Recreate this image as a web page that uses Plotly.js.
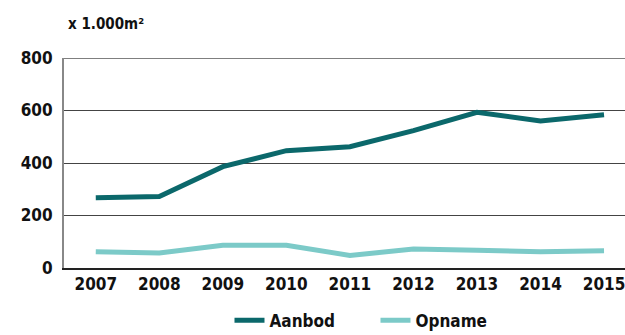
<!DOCTYPE html>
<html><head><meta charset="utf-8">
<script src="https://cdn.plot.ly/plotly-3.0.1.min.js"></script>
<style>html,body{margin:0;padding:0;background:#fff;overflow:hidden}</style>
</head><body>
<div id="chart" style="width:625px;height:335px"></div>
<script>
const years = [2007, 2008, 2009, 2010, 2011, 2012, 2013, 2014, 2015];
const aanbod = [268, 272, 386, 447, 462, 523, 593, 560, 584];
const opname = [62, 57, 87, 87, 48, 72, 68, 62, 66];
const yTicks = [0, 200, 400, 600, 800];
const fontFam = '"DejaVu Sans Condensed", sans-serif';

const traces = [
  {x: years, y: aanbod, name: 'Aanbod', type: 'scatter', mode: 'lines',
   line: {color: '#0b686b', width: 5}},
  {x: years, y: opname, name: 'Opname', type: 'scatter', mode: 'lines',
   line: {color: '#7ccac8', width: 5}}
];
const layout = {
  width: 625, height: 335,
  margin: {l: 64, r: 0, t: 58, b: 67, autoexpand: false},
  paper_bgcolor: '#fff', plot_bgcolor: '#fff',
  font: {family: fontFam, color: '#111', size: 17},
  showlegend: true,
  legend: {orientation: 'h', x: 0.295, xanchor: 'left', y: -0.165, yanchor: 'top',
           entrywidth: 101, entrywidthmode: 'pixels',
           font: {family: fontFam, size: 17, color: '#111', weight: 'bold'}, traceorder: 'normal'},
  xaxis: {range: [2006.5, 2015.33], tickvals: years, ticktext: years.map(String),
          ticklabeloverflow: 'allow',
          showgrid: false, zeroline: false, showline: true, linecolor: '#222', linewidth: 1.5,
          ticks: '', tickfont: {family: fontFam, size: 17, color: '#111', weight: 'bold'}},
  yaxis: {range: [0, 800], tickvals: yTicks, showgrid: true, gridcolor: '#444', gridwidth: 1,
          zeroline: false, showline: true, linecolor: '#888', linewidth: 2, mirror: false,
          ticks: '', ticklabelstandoff: 6, tickfont: {family: fontFam, size: 17, color: '#111', weight: 'bold'}},
  shapes: [{type: 'line', xref: 'paper', yref: 'y', x0: 0, x1: 1, y0: 800, y1: 800,
            line: {color: '#555', width: 1.5}}],
  annotations: [{text: 'x 1.000m²', xref: 'paper', yref: 'paper', x: 0.003, y: 1.11,
                 xanchor: 'left', yanchor: 'bottom', showarrow: false,
                 font: {family: fontFam, size: 15, color: '#111', weight: 'bold'}}]
};
Plotly.newPlot('chart', traces, layout, {displayModeBar: false, staticPlot: true});
</script>
</body></html>
